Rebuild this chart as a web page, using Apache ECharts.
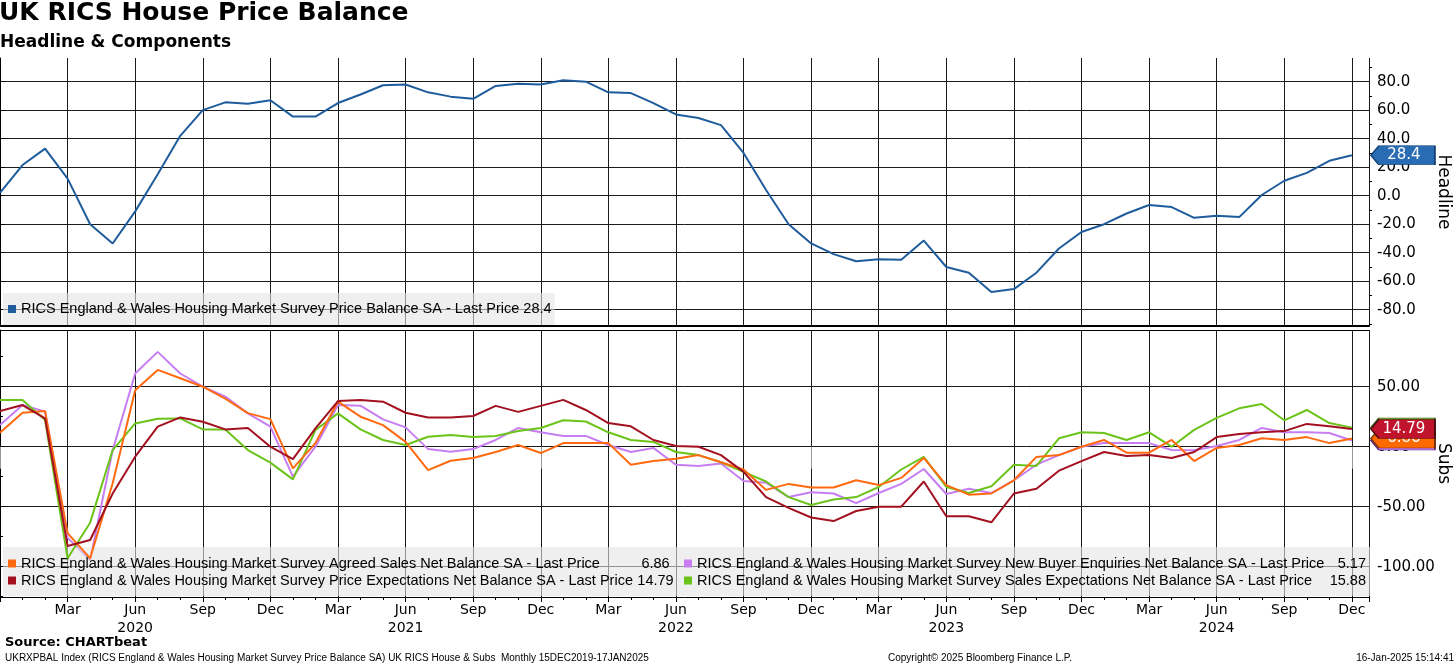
<!DOCTYPE html>
<html><head><meta charset="utf-8">
<script src="https://cdn.jsdelivr.net/npm/echarts@6/dist/echarts.min.js"></script>
<style>html,body{margin:0;padding:0;background:#fff}#c{width:1456px;height:665px}</style>
</head><body><div id="c"></div>
<script>
const months = ['Dec 2019',
 'Jan 2020','Feb 2020','Mar 2020','Apr 2020','May 2020','Jun 2020','Jul 2020','Aug 2020','Sep 2020','Oct 2020','Nov 2020','Dec 2020',
 'Jan 2021','Feb 2021','Mar 2021','Apr 2021','May 2021','Jun 2021','Jul 2021','Aug 2021','Sep 2021','Oct 2021','Nov 2021','Dec 2021',
 'Jan 2022','Feb 2022','Mar 2022','Apr 2022','May 2022','Jun 2022','Jul 2022','Aug 2022','Sep 2022','Oct 2022','Nov 2022','Dec 2022',
 'Jan 2023','Feb 2023','Mar 2023','Apr 2023','May 2023','Jun 2023','Jul 2023','Aug 2023','Sep 2023','Oct 2023','Nov 2023','Dec 2023',
 'Jan 2024','Feb 2024','Mar 2024','Apr 2024','May 2024','Jun 2024','Jul 2024','Aug 2024','Sep 2024','Oct 2024','Nov 2024','Dec 2024'];

const headline = [2, 21.5, 33, 12, -20, -33.5, -11, 15, 42, 60, 65.5, 64.5, 67,
 55.5, 55.5, 65, 71, 77.5, 78, 72.5, 69.5, 68, 77, 78.5, 78,
 81, 80, 72.5, 72, 65, 57, 54.5, 49.5, 30, 4, -20, -33.5,
 -41, -46, -44.5, -45, -31.5, -50, -54, -67.5, -65.5, -54, -37, -25.5,
 -20, -12.5, -6.5, -8, -15.5, -14, -15, 0.5, 10.5, 16, 24.5, 28.4];

const agreedSales = [11.7, 28.3, 29.7, -72, -93, -30.5, 47, 64, 57, 50, 40, 28, 23,
 -18, 3, 37.5, 25, 18, 4, -19.5, -11.7, -9.4, -4.4, 1.4, -5.3,
 3, 3, 3, -15, -12, -10, -7, -13, -19, -36, -31, -34,
 -34, -28, -32, -26, -9.4, -32, -40, -39, -28, -8.5, -7, 0,
 5.6, -5, -5, 5.6, -12, -1, 1.4, 7, 5.6, 8, 3, 6.86];

const newBuyerEnquiries = [18, 34.7, 29.2, -76, -94.4, -3, 61, 79, 61, 50, 41.7, 27.8, 16.7,
 -25, 0, 34.7, 34.2, 22.8, 16.1, -2, -4.2, -2, 5.6, 15.6, 12,
 9, 9, 1.4, -4.4, -1, -15, -16, -14, -28.6, -30, -42, -38,
 -39, -47, -38.6, -31, -18.6, -39.4, -35, -38.6, -28, -15, -7, 0,
 3, 3, 3, -2.8, -3, 0.6, 5.6, 15.6, 12, 12, 11.4, 5.17];

const priceExpectations = [29.7, 34.7, 23.6, -82.8, -77.8, -39, -8.3, 16.7, 24.4, 20.8, 14.4, 15.6, 0,
 -10.3, 15.3, 38, 38.9, 37.5, 28.3, 24.4, 24.4, 25.6, 34, 29, 34,
 39, 30.6, 19.7, 17, 5.6, 0.6, 0, -7, -21, -42, -51, -59,
 -62, -53.6, -50, -50, -29, -58, -58, -63, -39, -35, -20, -12,
 -4.4, -7.7, -7, -9.4, -4.4, 8, 10.6, 12, 13, 19, 17, 14.79];

const salesExpectations = [38.9, 38.9, 22.2, -93, -63.3, -2.8, 19.4, 23.3, 23.6, 14.4, 14.4, -2.8, -13.3,
 -27.2, 13.9, 27.8, 14.4, 5.6, 1.4, 8.3, 9.7, 8, 9, 13, 15.6,
 22, 21, 12, 5.6, 4, -4.4, -7, -13, -21, -29, -42, -48.6,
 -44, -42, -33.6, -19, -8.5, -33.6, -38.6, -33, -15, -16, 7, 12,
 11.4, 5.6, 12, 0, 14, 24, 32, 35.6, 22, 30.6, 19.7, 15.88];

const headlineTicks = [-80, -60, -40, -20, 0, 20, 40, 60, 80];
const headlineMinorTicks = [-90, -70, -50, -30, -10, 10, 30, 50, 70, 90];
const subsTicks = [-100, -50, 0, 50];
const subsMinorTicks = [-125, -75, -25, 25, 75];

const names = {
  headline: 'RICS England & Wales Housing Market Survey Price Balance SA',
  agreed: 'RICS England & Wales Housing Market Survey Agreed Sales Net Balance SA',
  enquiries: 'RICS England & Wales Housing Market Survey New Buyer Enquiries Net Balance SA',
  priceExp: 'RICS England & Wales Housing Market Survey Price Expectations Net Balance SA',
  salesExp: 'RICS England & Wales Housing Market Survey Sales Expectations Net Balance SA'
};
const colors = {headline:'#1f5c9c', agreed:'#ff6a10', enquiries:'#c67ef2', priceExp:'#a3101f', salesExp:'#6cc31a'};
const tagColors = {headline:['#2a6cb3','#123e70'], agreed:['#ff6a00','#7a3000'], enquiries:['#c67ef2','#5a2a80'], priceExp:['#c0142c','#4a0810'], salesExp:['#6cc31a','#3a5a10']};

const LEG_SIZE = 14.5;
const cv = document.createElement('canvas').getContext('2d');
cv.font = LEG_SIZE + 'px "Liberation Sans"';
const tw = s => Math.ceil(cv.measureText(s).width);

const last = arr => arr[arr.length - 1];
const fmtLast = (key, arr) => key === 'headline' ? last(arr).toFixed(1) : last(arr).toFixed(2);

const subsSeries = [
  {key:'enquiries', data:newBuyerEnquiries},
  {key:'salesExp', data:salesExpectations},
  {key:'agreed', data:agreedSales},
  {key:'priceExp', data:priceExpectations}
];
const lastMap = {};
lastMap[names.headline] = fmtLast('headline', headline);
subsSeries.forEach(s => lastMap[names[s.key]] = fmtLast(s.key, s.data));

// legend column widths
const leftKeys = ['agreed','priceExp'], rightKeys = ['enquiries','salesExp'];
const nL = Math.max(...leftKeys.map(k => tw(names[k] + ' - Last Price ')));
const vL = Math.max(...leftKeys.map(k => tw(lastMap[names[k]])));
const nR = Math.max(...rightKeys.map(k => tw(names[k] + ' - Last Price ')));
const vR = Math.max(...rightKeys.map(k => tw(lastMap[names[k]])));
const LEG_L = 3, PAD_L = 5, MK = 8, MKGAP = 5, GAP = 2;
const spL = Math.max(2, 684 - GAP - (LEG_L + PAD_L + MK + MKGAP + nL + vL));
const itemWL = MK + MKGAP + nL + vL + spL, itemWR = MK + MKGAP + nR + vR;
const padR = Math.max(4, 1362 - (LEG_L + PAD_L + itemWL + GAP + itemWR));

const XMAX = 60.76;
const tagPath = 'path://M0,10 L8,0 L64,0 L64,20 L8,20 Z';
function tag(key, arr, z) {
  return {
    silent: true, z: z,
    symbol: tagPath, symbolSize: [64, 19], symbolKeepAspect: false, symbolOffset: [51, 0],
    itemStyle: {color: tagColors[key][0], borderColor: tagColors[key][1], borderWidth: 1},
    label: {show: true, formatter: fmtLast(key, arr), color: '#fff', fontFamily: 'DejaVu Sans', fontSize: 15, offset: [1, 0]},
    data: [{coord: [arr.length - 1, last(arr)]}]
  };
}
const toXY = arr => arr.map((v, i) => [i, v]);

const gridLine = {show: true, lineStyle: {color: '#1a1a1a', width: 1}};
const xBase = {type: 'value', min: 0, max: XMAX, interval: 3};
const monthLabel = v => {
  if (v === 0 || Math.round(v) !== v || v % 3 !== 0) return '';
  const [m, y] = months[v].split(' ');
  return m === 'Jun' ? m + '\n' + y : m;
};
const decTicks = months.map((m, i) => m.startsWith('Dec') ? i : null).filter(v => v !== null);

const yLabelStyle = {color: '#000', fontFamily: 'DejaVu Sans', fontSize: 15, margin: 8};
const legText = {fontFamily: 'Liberation Sans', fontSize: LEG_SIZE, color: '#000'};

const option = {
  animation: false,
  backgroundColor: '#fff',
  title: [
    {text: 'UK RICS House Price Balance', left: -1, top: 1, padding: 0, textStyle: {fontFamily: 'DejaVu Sans', fontWeight: 'bold', fontSize: 25, color: '#000'}},
    {text: 'Headline & Components', left: 0, top: 34, padding: 0, textStyle: {fontFamily: 'DejaVu Sans', fontWeight: 'bold', fontSize: 17, color: '#000'}},
    {text: 'Source: CHARTbeat', left: 5, top: 636, padding: 0, textStyle: {fontFamily: 'DejaVu Sans', fontWeight: 'bold', fontSize: 13, color: '#000'}},
    {text: 'UKRXPBAL Index (RICS England & Wales Housing Market Survey Price Balance SA) UK RICS House & Subs  Monthly 15DEC2019-17JAN2025', left: 5, top: 653, padding: 0, textStyle: {fontFamily: 'Liberation Sans', fontWeight: 'normal', fontSize: 10, color: '#000'}},
    {text: 'Copyright\u00a9 2025 Bloomberg Finance L.P.', left: 888, top: 653, padding: 0, textStyle: {fontFamily: 'Liberation Sans', fontWeight: 'normal', fontSize: 10, color: '#000'}},
    {text: '16-Jan-2025 15:14:41', right: 2, top: 653, padding: 0, textStyle: {fontFamily: 'Liberation Sans', fontWeight: 'normal', fontSize: 10, color: '#000'}}
  ],
  legend: [
    {
      data: [names.headline], left: LEG_L, top: 293, orient: 'horizontal',
      padding: [8, 3, 8, PAD_L], itemWidth: MK, itemHeight: MK, itemGap: GAP, icon: 'rect',
      backgroundColor: 'rgba(228,228,228,0.6)', selectedMode: false,
      textStyle: Object.assign({lineHeight: 16}, legText),
      formatter: n => n + ' - Last Price ' + lastMap[n]
    },
    {
      data: [names.agreed, names.enquiries, names.priceExp, names.salesExp],
      left: LEG_L, top: 547, orient: 'horizontal', width: itemWL + GAP + itemWR + 1,
      padding: [9, padR, 8, PAD_L], itemWidth: MK, itemHeight: MK, itemGap: GAP, icon: 'rect',
      backgroundColor: 'rgba(228,228,228,0.6)', selectedMode: false,
      textStyle: Object.assign({lineHeight: 15, rich: {
          nl: Object.assign({width: nL}, legText),
          vl: Object.assign({width: vL, align: 'right'}, legText),
          sp: Object.assign({width: spL}, legText),
          nr: Object.assign({width: nR}, legText),
          vr: Object.assign({width: vR, align: 'right'}, legText)
        }}, legText),
      formatter: n => {
        const isLeft = n === names.agreed || n === names.priceExp;
        return isLeft ? `{nl|${n} - Last Price }{vl|${lastMap[n]}}{sp| }` : `{nr|${n} - Last Price }{vr|${lastMap[n]}}`;
      }
    }
  ],
  grid: [
    {left: 0, right: 87, top: 58, height: 268, outerBoundsMode: 'none', containLabel: false},
    {left: 0, right: 87, top: 330, height: 267, outerBoundsMode: 'none', containLabel: false}
  ],
  xAxis: [
    Object.assign({}, xBase, {gridIndex: 0, position: 'bottom',
      axisLine: {show: true, onZero: false, lineStyle: {color: '#000', width: 2}},
      axisTick: {show: false}, axisLabel: {show: false}, splitLine: gridLine}),
    Object.assign({}, xBase, {gridIndex: 1, position: 'bottom',
      axisLine: {show: true, onZero: false, lineStyle: {color: '#000', width: 1}},
      axisTick: {show: true, length: 5, lineStyle: {color: '#000'}},
      minorTick: {show: true, splitNumber: 3, length: 3, lineStyle: {color: '#000'}},
      axisLabel: {show: true, formatter: monthLabel, color: '#000', fontFamily: 'DejaVu Sans', fontSize: 14, lineHeight: 18, margin: 4},
      splitLine: gridLine}),
    Object.assign({}, xBase, {gridIndex: 1, position: 'top',
      axisLine: {show: true, onZero: false, lineStyle: {color: '#000', width: 1}},
      axisTick: {show: false}, axisLabel: {show: false}, splitLine: {show: false}}),
    {type: 'value', min: 0, max: XMAX, gridIndex: 1, position: 'bottom', offset: 17,
      axisLine: {show: false}, axisLabel: {show: false}, splitLine: {show: false},
      axisTick: {show: true, length: 22, customValues: decTicks, lineStyle: {color: '#999'}}}
  ],
  yAxis: [
    {type: 'value', gridIndex: 0, position: 'right', min: -91.4, max: 96.6,
      name: 'Headline', nameLocation: 'middle', nameRotate: -90, nameGap: 66, nameMoveOverlap: false,
      nameTextStyle: {fontFamily: 'DejaVu Sans', fontSize: 17, color: '#000'},
      axisLine: {show: true, lineStyle: {color: '#000'}},
      axisTick: {show: true, length: 5, customValues: headlineTicks, lineStyle: {color: '#000'}},
      axisLabel: Object.assign({customValues: headlineTicks, formatter: v => v.toFixed(1)}, yLabelStyle),
      splitLine: gridLine},
    {type: 'value', gridIndex: 0, position: 'right', min: -91.4, max: 96.6,
      axisLine: {show: false}, axisLabel: {show: false}, splitLine: {show: false},
      axisTick: {show: true, length: 3, customValues: headlineMinorTicks, lineStyle: {color: '#000'}}},
    {type: 'value', gridIndex: 1, position: 'right', min: -125.25, max: 97.25,
      name: 'Subs', nameLocation: 'middle', nameRotate: -90, nameGap: 66, nameMoveOverlap: false,
      nameTextStyle: {fontFamily: 'DejaVu Sans', fontSize: 17, color: '#000'},
      axisLine: {show: true, lineStyle: {color: '#000'}},
      axisTick: {show: true, length: 5, customValues: subsTicks, lineStyle: {color: '#000'}},
      axisLabel: Object.assign({customValues: subsTicks, formatter: v => v.toFixed(2)}, yLabelStyle),
      splitLine: gridLine},
    {type: 'value', gridIndex: 1, position: 'right', min: -125.25, max: 97.25,
      axisLine: {show: false}, axisLabel: {show: false}, splitLine: {show: false},
      axisTick: {show: true, length: 3, customValues: subsMinorTicks, lineStyle: {color: '#000'}}}
  ],
  series: [
    {name: names.headline, type: 'line', xAxisIndex: 0, yAxisIndex: 0, data: toXY(headline),
      showSymbol: false, symbol: 'none', lineStyle: {color: colors.headline, width: 2}, itemStyle: {color: colors.headline},
      markPoint: tag('headline', headline, 5), z: 3}
  ].concat(subsSeries.map((s, idx) => ({
      name: names[s.key], type: 'line', xAxisIndex: 1, yAxisIndex: 2, data: toXY(s.data),
      showSymbol: false, symbol: 'none', lineStyle: {color: colors[s.key], width: 2}, itemStyle: {color: colors[s.key]},
      markPoint: tag(s.key, s.data, 5 + idx), z: 3 + idx
  })))
};
const chart = echarts.init(document.getElementById('c'), null, {renderer: 'canvas'});
chart.setOption(option);
</script></body></html>
